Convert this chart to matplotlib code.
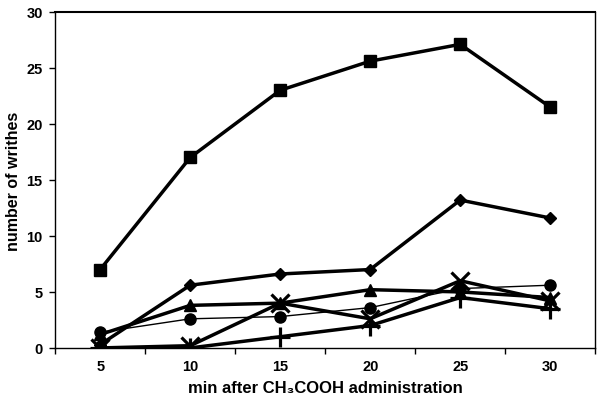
import matplotlib
matplotlib.use("Agg")
import matplotlib.pyplot as plt

# time points (min) after acetic acid injection
minutes = ["5", "10", "15", "20", "25", "30"]

# writhes per group
squares = [7.0, 17.0, 23.0, 25.6, 27.1, 21.5]
diamonds = [0.3, 5.6, 6.6, 7.0, 13.2, 11.6]
triangles = [1.2, 3.8, 4.0, 5.2, 5.0, 4.5]
circles = [1.4, 2.6, 2.8, 3.6, 5.3, 5.6]
crosses = [0.0, 0.2, 4.0, 2.6, 6.0, 4.2]
pluses = [0.0, 0.0, 1.0, 2.0, 4.5, 3.5]

plt.rcParams['font.family'] = ['Liberation Sans', 'DejaVu Sans']
plt.rcParams['font.weight'] = 'bold'

fig = plt.figure(figsize=(6, 4.02), dpi=100)
ax = fig.add_axes([0.092, 0.132, 0.9, 0.836])

x = list(range(len(minutes)))
ax.plot(x, circles, color='black', lw=1.0, marker='o', ms=8)
ax.plot(x, pluses, color='black', lw=2.5, marker='+', ms=14, mew=2.3)
ax.plot(x, crosses, color='black', lw=2.5, marker='x', ms=13, mew=2.3)
ax.plot(x, triangles, color='black', lw=2.5, marker='^', ms=8)
ax.plot(x, diamonds, color='black', lw=2.5, marker='D', ms=6)
ax.plot(x, squares, color='black', lw=2.5, marker='s', ms=8.5)

ax.set_xlim(-0.5, len(minutes) - 0.5)
ax.set_ylim(0, 30)
ax.set_yticks(range(0, 31, 5))
ax.set_xticks(x)
ax.set_xticklabels(minutes)
ax.set_xticks([i - 0.5 for i in range(len(minutes) + 1)], minor=True)
ax.tick_params(axis='x', which='major', length=0, labelsize=10.5, pad=8)
ax.tick_params(axis='x', which='minor', length=4, width=1)
ax.tick_params(axis='y', length=4, width=1, labelsize=10.5, pad=5)
for lab in ax.get_xticklabels() + ax.get_yticklabels():
    lab.set_fontweight('bold')

for side in ['left', 'bottom']:
    ax.spines[side].set_linewidth(1.0)
ax.spines['top'].set_linewidth(1.5)
ax.spines['right'].set_linewidth(1.0)

ax.set_ylabel('number of writhes', fontsize=11.5, fontweight='bold', labelpad=4)
ax.set_xlabel('min after CH\u2083COOH administration', fontsize=12,
              fontweight='bold', labelpad=5)

fig.savefig('out.png', dpi=100)
